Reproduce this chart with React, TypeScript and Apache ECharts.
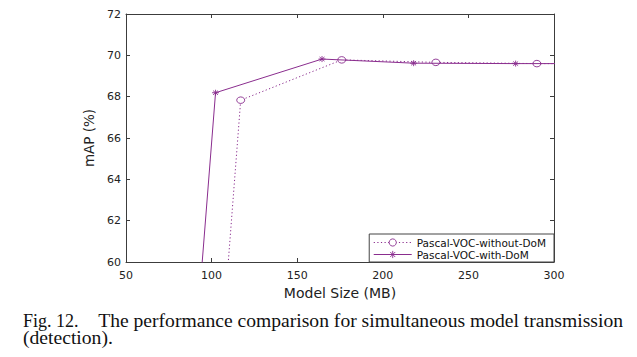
import React, { useEffect, useRef } from "react";
import * as echarts from "echarts";

const xWithout = [100, 117, 176, 231, 290, 340];
const yWithout = [49.5, 67.83, 69.78, 69.66, 69.6, 69.6];
const xWith = [85, 102.3, 164.5, 218, 277.6, 340];
const yWith = [50, 68.19, 69.82, 69.62, 69.6, 69.6];
const seriesNames = ["Pascal-VOC-without-DoM", "Pascal-VOC-with-DoM"];
const xTicks = { min: 50, max: 300, interval: 50 };
const yTicks = { min: 60, max: 72, interval: 2 };
const xLabel = "Model Size (MB)";
const yLabel = "mAP (%)";
const captionHead = "Fig. 12.";
const captionLine1 = "The performance comparison for simultaneous model transmission";
const captionLine2 = "(detection).";

const PURPLE = "#8a2d8e";
const AXIS = "#3c3c3c";
const SANS = "DejaVu Sans";
const SERIF = "Liberation Serif";

const STAR = "path://M0,-10L0,10M-10,0L10,0M-7,-7L7,7M-7,7L7,-7";

export default function App() {
  const ref = useRef<HTMLDivElement>(null);
  useEffect(() => {
    document.body.style.margin = "0";
    const chart = echarts.init(ref.current!, null, { renderer: "svg" });
    const axisCommon = {
      axisLine: { show: true, lineStyle: { color: AXIS, width: 1 } },
      axisTick: { show: true, inside: true, length: 4, lineStyle: { color: AXIS } },
      splitLine: { show: false },
    };
    chart.setOption({
      animation: false,
      backgroundColor: "#fff",
      grid: { left: 126, top: 14, width: 428, height: 248, containLabel: false },
      xAxis: [
        {
          type: "value",
          ...xTicks,
          position: "bottom",
          ...axisCommon,
          axisLabel: { color: "#222", fontFamily: SANS, fontSize: 11, margin: 8 },
          name: xLabel,
          nameLocation: "middle",
          nameGap: 18,
          nameTextStyle: { color: "#222", fontFamily: SANS, fontSize: 14 },
        },
        {
          type: "value",
          ...xTicks,
          position: "top",
          ...axisCommon,
          axisLabel: { show: false },
        },
      ],
      yAxis: [
        {
          type: "value",
          ...yTicks,
          position: "left",
          ...axisCommon,
          axisLabel: { color: "#222", fontFamily: SANS, fontSize: 11, margin: 5 },
          name: yLabel,
          nameLocation: "middle",
          nameGap: 18,
          nameTextStyle: { color: "#222", fontFamily: SANS, fontSize: 13.5 },
        },
        {
          type: "value",
          ...yTicks,
          position: "right",
          ...axisCommon,
          axisLabel: { show: false },
        },
      ],
      legend: {
        orient: "vertical",
        right: 83,
        bottom: 95,
        backgroundColor: "#fff",
        borderColor: "#444",
        borderWidth: 1,
        padding: [3, 8, 2, 4],
        itemGap: 1,
        itemWidth: 38,
        itemHeight: 9,
        itemStyle: { borderWidth: 0.9 },
        lineStyle: { width: 1 },
        textStyle: { color: "#111", fontFamily: SANS, fontSize: 10.5 },
        data: seriesNames,
      },
      series: [
        {
          name: seriesNames[0],
          type: "line",
          data: xWithout.map((x, i) => [x, yWithout[i]]),
          symbol: "circle",
          symbolSize: [8, 6.5],
          lineStyle: { color: PURPLE, width: 1, type: [1.2, 2.4] },
          itemStyle: { color: "#fff", borderColor: PURPLE, borderWidth: 0.9 },
          clip: true,
          z: 2,
        },
        {
          name: seriesNames[1],
          type: "line",
          data: xWith.map((x, i) => [x, yWith[i]]),
          symbol: STAR,
          symbolSize: [7, 6],
          lineStyle: { color: PURPLE, width: 1 },
          itemStyle: { color: PURPLE, borderColor: PURPLE, borderWidth: 0.9 },
          clip: true,
          z: 3,
        },
      ],
      graphic: [
        {
          type: "text",
          left: 23,
          top: 312,
          style: { text: captionHead, font: `18px "${SERIF}"`, fill: "#111" },
        },
        {
          type: "text",
          x: 623,
          y: 312,
          scaleX: 1.09,
          style: {
            text: captionLine1,
            font: `18px "${SERIF}"`,
            fill: "#111",
            align: "right",
            verticalAlign: "top",
          },
        },
        {
          type: "text",
          x: 23,
          y: 329,
          scaleX: 1.09,
          style: {
            text: captionLine2,
            font: `18px "${SERIF}"`,
            fill: "#111",
            align: "left",
            verticalAlign: "top",
          },
        },
      ],
    });
    return () => chart.dispose();
  }, []);
  return <div ref={ref} style={{ width: 637, height: 357 }} />;
}
